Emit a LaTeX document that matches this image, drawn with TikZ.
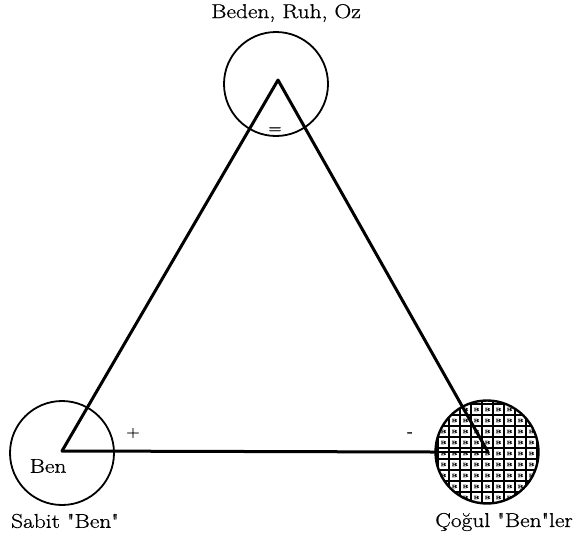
\documentclass[tikz,border=0pt]{standalone}
\usepackage{fontspec}
\setmainfont{Latin Modern Roman}[FakeStretch=1.17,FakeBold=0.8,Ligatures=TeXOff]
\begin{document}
\begin{tikzpicture}[x=1pt,y=-1pt,
  ring/.style={circle,draw,line width=1.8pt,minimum size=104pt,inner sep=0pt},
  edge/.style={line width=3pt,line cap=round,line join=round},
  lbl/.style={font=\fontsize{20}{22}\selectfont,inner sep=0pt},
  sgn/.style={font=\fontsize{13}{14}\selectfont\bfseries,inner sep=0pt}]
\useasboundingbox (0,0) rectangle (577,536);
% vertices
\coordinate (T) at (278,80);
\coordinate (L) at (62,451);
\coordinate (R) at (488,452);
% grid pattern in the right circle
\begin{scope}
  \clip (487,452) circle (51.5);
  \fill[white] (487,452) circle (51.5);
  \foreach \k in {-1,...,9}{
    \draw[line width=1.4pt] (438+11*\k,395) -- (438+11*\k,510);
    \draw[line width=1.4pt] (430,415+11*\k) -- (545,415+11*\k);
  }
  \foreach \i in {-1,...,8}{
    \foreach \j in {-1,...,8}{
      \node[font=\fontsize{5}{5}\selectfont\bfseries,inner sep=0pt] at (443.5+11*\i,420.5+11*\j) {B};
    }
  }
\end{scope}
\node[ring] (top) at (276,84) {};
\node[ring] (left) at (62,453) {};
\node[ring,line width=2.4pt,minimum size=103pt] (right) at (487,452) {};
% triangle
\draw[edge] (L) -- (T) -- (R);
\draw[edge] (L) -- (right.west);
\draw[line width=1.8pt] (right.west) -- (R);
% labels
\node[lbl] (tl) at (286,13) {Beden, Ruh, Oz};
\node[lbl] (ben) at (48,466) {Ben};
\node[lbl] (sl) at (65,521) {Sabit "Ben"};
\node[lbl] (rl) at (504,522) {Çoğul "Ben"ler};
\node[sgn] (eq) at (275,130) {=};
\node[sgn] (pl) at (133,433) {+};
\node[sgn] (mi) at (410,434) {-};
\end{tikzpicture}
\end{document}
